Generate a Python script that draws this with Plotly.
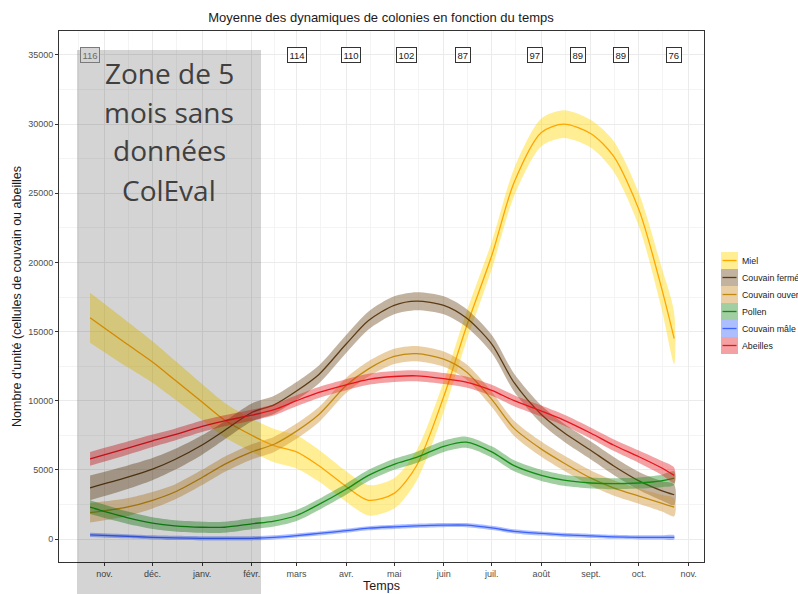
import plotly.graph_objects as go

dates = ["2016-10-23", "2016-11-15", "2016-12-01", "2016-12-15", "2017-01-01",
         "2017-01-15", "2017-02-01", "2017-02-15", "2017-03-01", "2017-03-15",
         "2017-04-01", "2017-04-15", "2017-05-01", "2017-05-15", "2017-06-01",
         "2017-06-15", "2017-07-01", "2017-07-15", "2017-08-01", "2017-08-15",
         "2017-09-01", "2017-09-15", "2017-10-01", "2017-10-15", "2017-10-23"]

miel = [16000, 14100, 12800, 11500, 9900, 8600, 7500, 6750, 6300, 5300,
        3800, 2800, 3300, 5300, 10300, 15300, 20500, 25800, 29400, 30000,
        29300, 27700, 23800, 18200, 14500]
miel_se = [1800, 1650, 1500, 1400, 1300, 1250, 1200, 1200, 1200, 1150,
           1100, 1100, 1100, 1100, 1100, 1050, 1000, 1000, 1000, 1000,
           1000, 1100, 1200, 1500, 1850]

couvain_ferme = [3700, 4450, 5050, 5750, 6800, 7850, 9150, 9700, 10700, 11900,
                 14100, 15800, 16900, 17200, 16900, 16000, 14100, 11300, 9000, 7700,
                 6400, 5300, 4200, 3500, 3200]
couvain_ferme_se = [900, 850, 800, 750, 700, 650, 650, 650, 650, 650,
                    650, 650, 650, 650, 650, 650, 650, 650, 650, 650,
                    650, 650, 650, 700, 750]

couvain_ouvert = [1900, 2300, 2800, 3400, 4450, 5400, 6300, 6850, 7800, 9000,
                  11100, 12300, 13200, 13400, 13000, 12100, 10100, 8000, 6500, 5500,
                  4400, 3700, 3100, 2600, 2300]
couvain_ouvert_se = [700, 650, 600, 550, 550, 550, 550, 550, 550, 550,
                     550, 550, 550, 550, 550, 550, 550, 550, 550, 550,
                     550, 550, 550, 600, 650]

pollen = [2300, 1550, 1150, 950, 850, 850, 1100, 1300, 1700, 2500,
          3600, 4600, 5400, 5900, 6700, 7000, 6300, 5300, 4600, 4250,
          4050, 4000, 4050, 4200, 4400]
pollen_se = [500, 450, 420, 400, 400, 400, 400, 400, 400, 400,
             400, 400, 400, 400, 400, 400, 400, 400, 400, 400,
             400, 400, 400, 450, 500]

couvain_male = [300, 200, 120, 80, 50, 50, 50, 120, 250, 400,
                600, 780, 880, 950, 1000, 1000, 800, 550, 400, 300,
                220, 160, 120, 120, 120]
couvain_male_se = [150] * 25

abeilles = [5800, 6550, 7100, 7550, 8150, 8550, 8950, 9350, 10000, 10600,
            11150, 11550, 11750, 11800, 11600, 11350, 10750, 10000, 9250, 8600,
            7650, 6800, 5950, 5150, 4600]
abeilles_se = [500, 480, 450, 430, 420, 400, 400, 400, 400, 400,
               400, 400, 400, 400, 400, 400, 400, 400, 400, 400,
               400, 420, 450, 500, 550]

series_names = ["Miel", "Couvain fermé", "Couvain ouvert", "Pollen", "Couvain mâle", "Abeilles"]
series_values = [miel, couvain_ferme, couvain_ouvert, pollen, couvain_male, abeilles]
series_se = [miel_se, couvain_ferme_se, couvain_ouvert_se, pollen_se, couvain_male_se, abeilles_se]
line_colors = ["#FFA500", "#5C3C14", "#C08A10", "#128C12", "#3D63FF", "#E8141C"]
band_colors = ["rgba(255,215,0,0.42)", "rgba(110,75,30,0.42)", "rgba(205,140,40,0.42)",
               "rgba(30,140,30,0.42)", "rgba(60,100,255,0.42)", "rgba(228,30,36,0.42)"]

count_dates = ["2016-10-23", "2017-03-01", "2017-04-04", "2017-05-09", "2017-06-13",
               "2017-07-28", "2017-08-24", "2017-09-20", "2017-10-23"]
count_labels = ["116", "114", "110", "102", "87", "97", "89", "89", "76"]
count_y = 35000

month_ticks = ["2016-11-01", "2016-12-01", "2017-01-01", "2017-02-01", "2017-03-01",
               "2017-04-01", "2017-05-01", "2017-06-01", "2017-07-01", "2017-08-01",
               "2017-09-01", "2017-10-01", "2017-11-01"]
month_labels = ["nov.", "déc.", "janv.", "févr.", "mars", "avr.", "mai", "juin",
                "juil.", "août", "sept.", "oct.", "nov."]
minor_ticks = ["2016-10-16", "2016-11-16", "2016-12-16", "2017-01-16", "2017-02-15",
               "2017-03-16", "2017-04-16", "2017-05-16", "2017-06-16", "2017-07-16",
               "2017-08-16", "2017-09-16", "2017-10-16"]

zone_lines = ["Zone de 5", "mois sans", "données", "ColEval"]

fig = go.Figure()
for name, vals, se, lc, bc in zip(series_names, series_values, series_se, line_colors, band_colors):
    upper = [v + s for v, s in zip(vals, se)]
    lower = [v - s for v, s in zip(vals, se)]
    fig.add_trace(go.Scatter(x=dates + dates[::-1], y=upper + lower[::-1], fill="toself",
                             fillcolor=bc, line=dict(width=0, shape="spline", smoothing=0.8),
                             mode="lines", hoverinfo="skip", showlegend=False))
    fig.add_trace(go.Scatter(x=dates, y=vals, mode="lines", name=name,
                             line=dict(color=lc, width=1.3, shape="spline", smoothing=0.8),
                             showlegend=False))

# plot geometry in pixels
W, H = 798, 594
L, R, T, B = 59, 704, 31, 562
pw, ph = R - L, B - T

def px(x):
    return (x - L) / pw

def py(y):
    return (B - y) / ph

# count boxes
for i, (d, lab) in enumerate(zip(count_dates, count_labels)):
    first = i == 0
    fig.add_annotation(x=d, y=count_y, xref="x", yref="y", text=lab, showarrow=False,
                       font=dict(family="Liberation Sans, Arial", size=9.5,
                                 color="#6b6b6b" if first else "#1a1a1a"),
                       bgcolor="#d4d4d4" if first else "white",
                       bordercolor="#7a7a7a" if first else "#333333",
                       borderwidth=1, borderpad=1.5)

shapes = []
# gray overlay zone
shapes.append(dict(type="rect", xref="paper", yref="paper", x0=px(77), x1=px(261),
                   y0=py(594), y1=py(50), fillcolor="rgba(0,0,0,0.17)", line=dict(width=0),
                   layer="above"))

# manual legend
leg_top = [252, 269, 286, 303, 320, 337]
leg_h = 17
for i, (name, lc, bc) in enumerate(zip(series_names, line_colors, band_colors)):
    y0 = leg_top[i]
    shapes.append(dict(type="rect", xref="paper", yref="paper", x0=px(721), x1=px(738),
                       y0=py(y0 + leg_h), y1=py(y0), fillcolor=bc, line=dict(width=0)))
    shapes.append(dict(type="line", xref="paper", yref="paper", x0=px(722.5), x1=px(736.5),
                       y0=py(y0 + leg_h / 2), y1=py(y0 + leg_h / 2),
                       line=dict(color=lc, width=1.3)))
    fig.add_annotation(xref="paper", yref="paper", x=px(740), y=py(y0 + leg_h / 2),
                       xanchor="left", yanchor="middle", text=name, showarrow=False,
                       font=dict(family="Liberation Sans, Arial", size=8.8, color="#1a1a1a"))

zone_y = [73, 112, 150, 190]
for t, yy in zip(zone_lines, zone_y):
    fig.add_annotation(xref="paper", yref="paper", x=px(169), y=py(yy), text=t,
                       showarrow=False, xanchor="center", yanchor="middle",
                       font=dict(family="Open Sans", size=28, color="#404040"))

fig.update_layout(
    width=W, height=H,
    margin=dict(l=L, r=W - R, t=T, b=H - B, autoexpand=False),
    plot_bgcolor="white", paper_bgcolor="white",
    shapes=shapes,
    showlegend=False,
    title=dict(text="Moyenne des dynamiques de colonies en fonction du temps",
               x=381 / W, xanchor="center", y=1 - 17 / H, yanchor="middle",
               font=dict(family="Liberation Sans, Arial", size=13, color="#1a1a1a")),
    font=dict(family="Liberation Sans, Arial"),
)

fig.update_xaxes(type="date", range=["2016-10-03 14:00", "2017-11-10 15:00"],
                 automargin=False,
                 tickmode="array", tickvals=month_ticks, ticktext=month_labels,
                 tickfont=dict(size=9, color="#4d4d4d"),
                 ticks="outside", ticklen=3, tickcolor="#333333",
                 showgrid=True, gridcolor="#ebebeb", gridwidth=1,
                 minor=dict(tickmode="array", tickvals=minor_ticks, showgrid=True,
                            gridcolor="#f4f4f4", gridwidth=0.8, ticks=""),
                 showline=True, linecolor="#333333", linewidth=1, mirror=True,
                 zeroline=False,
                 title=dict(text="Temps", font=dict(size=12.5, color="#1a1a1a"), standoff=2))

fig.update_yaxes(range=[-1663, 36735], automargin=False, tickmode="array",
                 tickvals=[0, 5000, 10000, 15000, 20000, 25000, 30000, 35000],
                 tickformat="d",
                 tickfont=dict(size=9, color="#4d4d4d"),
                 ticks="outside", ticklen=3, tickcolor="#333333",
                 showgrid=True, gridcolor="#ebebeb", gridwidth=1,
                 minor=dict(dtick=2500, tick0=0, showgrid=True, gridcolor="#f4f4f4",
                            gridwidth=0.8, ticks=""),
                 showline=True, linecolor="#333333", linewidth=1, mirror=True,
                 zeroline=False,
                 title=dict(text="Nombre d'unité (cellules de couvain ou abeilles",
                            font=dict(size=12.5, color="#1a1a1a"), standoff=3))

fig.write_html("out.html", config={"displayModeBar": False},
               post_script="document.body.style.margin='0';document.body.style.padding='0';")
